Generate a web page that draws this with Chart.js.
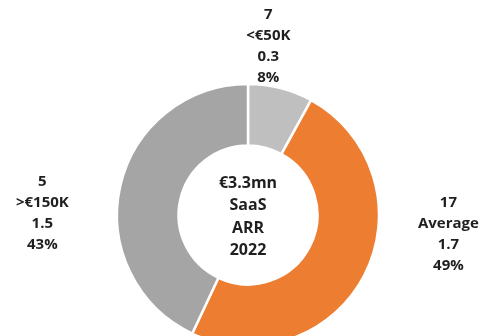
<!DOCTYPE html>
<html>
<head>
<meta charset="utf-8">
<style>
  html, body { margin: 0; padding: 0; background: #ffffff; }
  #wrap { width: 488px; height: 336px; overflow: hidden; }
  canvas { display: block; }
</style>
<script src="https://cdn.jsdelivr.net/npm/chart.js@4/dist/chart.umd.min.js"></script>
</head>
<body>
<div id="wrap"><canvas id="c" width="488" height="336"></canvas></div>
<script>
// ARR split by customer size band
const bands = ['<€50K', 'Average', '>€150K'];
const customerCounts = [7, 17, 5];
const arrMillions = ['0.3', '1.7', '1.5'];
const sharePct = [8, 49, 43];
const centerLines = ['€3.3mn', 'SaaS', 'ARR', '2022'];

const sliceColors = ['#bfbfbf', '#ed7d31', '#a5a5a5'];
const textColor = '#1f1f1f';
const labelFont = 'bold 15px "Open Sans", "DejaVu Sans", sans-serif';
const centerFont = 'bold 16px "Open Sans", "DejaVu Sans", sans-serif';
const lineGap = 21;
const centerGap = 22.5;

// where each slice's label block sits, as multiples of the outer radius from the centre
const labelAnchors = [
  { dx: 0.155, dy: -1.29 },
  { dx: 1.53,  dy: 0.145 },
  { dx: -1.57, dy: -0.015 }
];

const labelPlugin = {
  id: 'sliceLabels',
  afterDatasetsDraw(chart) {
    const ctx = chart.ctx;
    const arcs = chart.getDatasetMeta(0).data;
    if (!arcs.length) return;
    const cx = arcs[0].x, cy = arcs[0].y, r = arcs[0].outerRadius;
    ctx.save();
    ctx.fillStyle = textColor;
    ctx.textAlign = 'center';
    ctx.textBaseline = 'middle';
    ctx.font = labelFont;
    arcs.forEach((arc, i) => {
      const lines = [String(customerCounts[i]), bands[i], arrMillions[i], sharePct[i] + '%'];
      const x = cx + labelAnchors[i].dx * r;
      const y = cy + labelAnchors[i].dy * r;
      const top = y - (lines.length - 1) * lineGap / 2;
      lines.forEach((t, k) => ctx.fillText(t, x, top + k * lineGap));
    });
    ctx.font = centerFont;
    const ctop = cy + 2 - (centerLines.length - 1) * centerGap / 2;
    centerLines.forEach((t, k) => ctx.fillText(t, cx, ctop + k * centerGap));
    ctx.restore();
  }
};

new Chart(document.getElementById('c'), {
  type: 'doughnut',
  data: {
    labels: bands,
    datasets: [{
      data: sharePct,
      backgroundColor: sliceColors,
      borderColor: '#ffffff',
      borderWidth: 2.5,
      hoverOffset: 0
    }]
  },
  options: {
    responsive: false,
    animation: false,
    events: [],
    radius: 131,
    cutout: '53%',
    layout: { padding: { top: 94, bottom: 0, left: 8, right: 0 } },
    plugins: {
      legend: { display: false },
      tooltip: { enabled: false }
    }
  },
  plugins: [labelPlugin]
});
</script>
</body>
</html>
